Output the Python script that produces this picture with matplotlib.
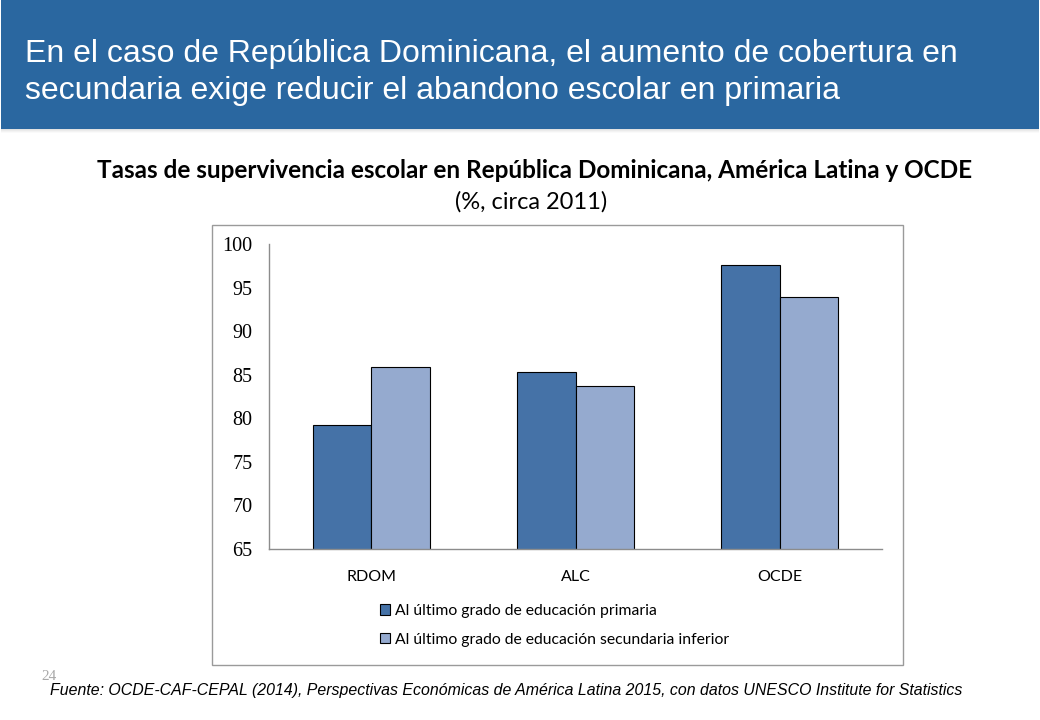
import matplotlib

matplotlib.use("Agg")
import matplotlib.pyplot as plt
import numpy as np
from matplotlib.patches import Rectangle

categories = ["RDOM", "ALC", "OCDE"]
primaria = [79.2, 85.3, 97.6]
secundaria_inf = [85.9, 83.7, 93.9]
series_labels = [
    "Al último grado de educación primaria",
    "Al último grado de educación secundaria inferior",
]
y_ticks = [65, 70, 75, 80, 85, 90, 95, 100]

DARK = "#4572A7"
LIGHT = "#95AACF"
HEADER = "#2A67A0"
CHART_FONT = ["Lato", "DejaVu Sans"]

fig = plt.figure(figsize=(10.4, 7.2), dpi=100)

# header band with a soft shadow underneath
for i, a in enumerate([0.18, 0.12, 0.07, 0.03]):
    fig.patches.append(Rectangle((0.001, 1 - (129 + i + 1) / 720), 0.998, 1 / 720,
                                 transform=fig.transFigure, color="#606060", alpha=a, lw=0))
fig.patches.append(Rectangle((0.001, 1 - 129 / 720), 0.998, 129 / 720,
                             transform=fig.transFigure, color=HEADER, lw=0))
fig.text(25 / 1040, 1 - 54 / 720, "En el caso de República Dominicana, el aumento de cobertura en",
         color="white", fontsize=23, family="Liberation Sans", va="center", ha="left")
fig.text(25 / 1040, 1 - 91 / 720, "secundaria exige reducir el abandono escolar en primaria",
         color="white", fontsize=23, family="Liberation Sans", va="center", ha="left")

# chart titles
fig.text(535 / 1040, 1 - 170 / 720,
         "Tasas de supervivencia escolar en República Dominicana, América Latina y OCDE",
         fontsize=17.5, fontweight="bold", family=CHART_FONT, ha="center", va="center")
fig.text(531 / 1040, 1 - 202 / 720, "(%, circa 2011)", fontsize=17,
         family=CHART_FONT, ha="center", va="center")

# chart frame
fig.patches.append(Rectangle((212 / 1040, 1 - 665 / 720), 691 / 1040, 440 / 720,
                             transform=fig.transFigure, fill=False, edgecolor="#9a9a9a", lw=1))

ax = fig.add_axes([269 / 1040, 1 - 549 / 720, 613 / 1040, 305 / 720])
x = np.arange(len(categories))
w = 0.287
ax.bar(x - w / 2, primaria, w, color=DARK, edgecolor="black", lw=0.8,
       label=series_labels[0], zorder=2)
ax.bar(x + w / 2, secundaria_inf, w, color=LIGHT, edgecolor="black", lw=0.8,
       label=series_labels[1], zorder=2)

ax.set_xlim(-0.5, 2.5)
ax.set_ylim(65, 100)
ax.set_yticks(y_ticks)
ax.set_yticklabels([str(t) for t in y_ticks], family="Liberation Serif", fontsize=14.5)
ax.set_xticks(x)
ax.set_xticklabels(categories, family=CHART_FONT, fontsize=11.5)
ax.tick_params(axis="y", length=0, pad=12)
ax.tick_params(axis="x", length=0, pad=15)
for s in ["top", "right"]:
    ax.spines[s].set_visible(False)
for s in ["left", "bottom"]:
    ax.spines[s].set_color("#8c8c8c")
    ax.spines[s].set_linewidth(1)
ax.set_facecolor("none")

leg = fig.legend(loc="upper left", bbox_to_anchor=(372 / 1040, 1 - 596 / 720), frameon=False,
                 prop={"family": CHART_FONT, "size": 11.3}, handlelength=0.65, handleheight=0.65,
                 handletextpad=0.3, labelspacing=0.95, borderpad=0)

# footer
fig.text(41 / 1040, 1 - 676 / 720, "24", fontsize=11, color="#a8a8a8",
         family="Liberation Serif", ha="left", va="center")
fig.text(50 / 1040, 1 - 690 / 720,
         "Fuente: OCDE-CAF-CEPAL (2014), Perspectivas Económicas de América Latina 2015, con datos UNESCO Institute for Statistics",
         fontsize=11.4, style="italic", family="Liberation Sans", ha="left", va="center")

fig.savefig("out.png", dpi=100)
